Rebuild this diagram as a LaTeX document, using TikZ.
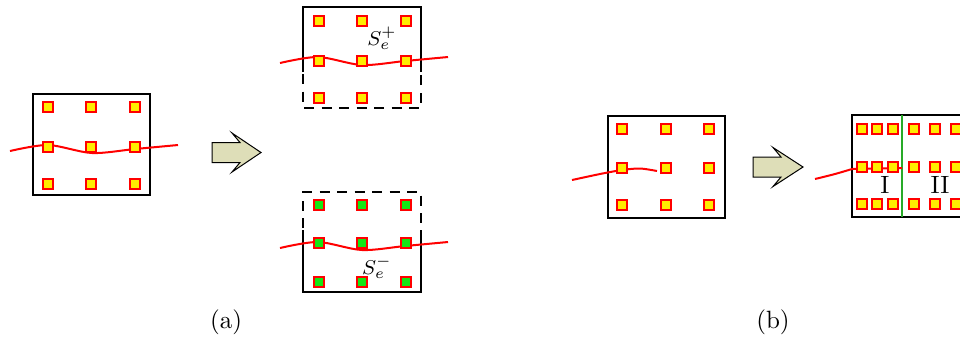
\documentclass[tikz,border=0pt]{standalone}
\usepackage{xcolor}
\usetikzlibrary{calc}
\definecolor{siteyellow}{RGB}{255,236,0}
\definecolor{sitegreen}{RGB}{20,230,20}
\definecolor{arrowfill}{RGB}{222,222,184}
\definecolor{cutgreen}{RGB}{40,170,40}

\begin{document}
\begin{tikzpicture}[x=0.4pt, y=-0.4pt,
  site/.style={draw=red, fill=siteyellow, minimum size=4pt, inner sep=0pt, line width=0.5pt},
  gsite/.style={site, fill=sitegreen},
  crack/.style={draw=red, line width=0.8pt},
  cell/.style={line width=0.8pt},
  halfcell/.style={cell, dash pattern=on 4pt off 3pt},
  bigarrow/.style={draw=black, fill=arrowfill, line width=0.4pt}]
  \useasboundingbox (0,0) rectangle (960,343);
  \clip (0,0) rectangle (960,343);
  % (a) original cell
  \draw[cell] (33,94) rectangle (150,195);
  \draw[crack] plot[smooth] coordinates {(10,151) (48,145) (92,153) (135,149) (178,145)};
  \foreach \x [count=\i] in {48,91,135}
    \foreach \y [count=\j] in {107,147,184}
      \node[site] (a\i\j) at (\x,\y) {};
  \draw[bigarrow] (212,142.5) -- (240,142.5) -- (232,133) -- (261,152.5) -- (232,172) -- (240,162.5) -- (212,162.5) -- cycle;
  % upper half S+
  \draw[cell] (303,72) -- (303,7) -- (421,7) -- (421,72);
  \draw[halfcell] (303,74) -- (303,108) -- (421,108) -- (421,74);
  \draw[crack, shift={(270,-88)}] plot[smooth] coordinates {(10,151) (48,145) (92,153) (135,149) (178,145)};
  \foreach \x [count=\i] in {319,362,406}
    \foreach \y [count=\j] in {21,61,98}
      \node[site] (p\i\j) at (\x,\y) {};
  \node[font=\footnotesize] (splus) at (382,38) {$S_e^+$};
  % lower half S-
  \draw[halfcell] (303,228) -- (303,192) -- (421,192) -- (421,228);
  \draw[cell] (303,230) -- (303,292) -- (421,292) -- (421,230);
  \draw[crack, shift={(270,97)}] plot[smooth] coordinates {(10,151) (48,145) (92,153) (135,149) (178,145)};
  \foreach \x [count=\i] in {319,362,406}
    \foreach \y [count=\j] in {205,243,282}
      \node[gsite] (m\i\j) at (\x,\y) {};
  \node[font=\footnotesize] (sminus) at (377,267) {$S_e^-$};
  \node (capa) at (226,322) {(a)};
  % (b) crack tip inside the cell
  \draw[cell] (608,116) rectangle (725,218);
  \draw[crack] plot[smooth] coordinates {(572,180) (600,174) (622,170) (640,168.5) (657,171)};
  \foreach \x [count=\i] in {622,666,709}
    \foreach \y [count=\j] in {129,168,205}
      \node[site] (b\i\j) at (\x,\y) {};
  \draw[bigarrow] (753,157) -- (781,157) -- (773,147.5) -- (803,167) -- (773,186.5) -- (781,177) -- (753,177) -- cycle;
  % split cell
  \draw[cell] (852,115) rectangle (1010,217);
  \draw[draw=cutgreen, line width=0.8pt] (902,115) -- (902,217);
  \draw[crack] plot[smooth] coordinates {(815,179) (835,174) (852,169)} -- (902,168);
  \foreach \x [count=\i] in {862,877,893,914,935,956}
    \foreach \y [count=\j] in {129,167,204}
      \node[site] (c\i\j) at (\x,\y) {};
  \node (partI) at (885,185) {I};
  \node (partII) at (940,185) {II};
  \node (capb) at (773,322) {(b)};
\end{tikzpicture}
\end{document}
